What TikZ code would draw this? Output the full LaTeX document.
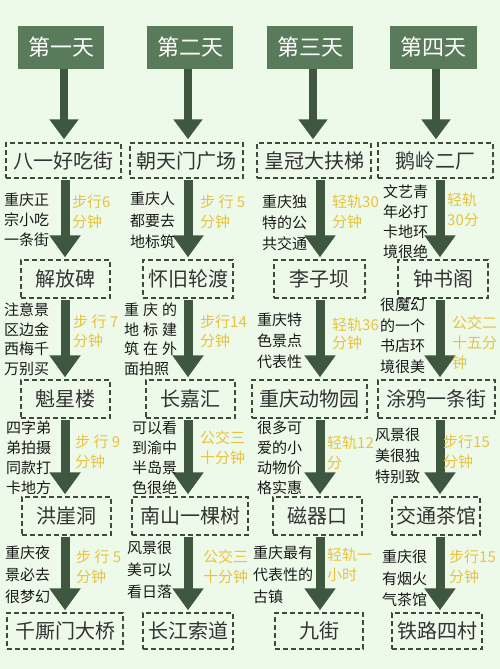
\documentclass[tikz,border=0pt]{standalone}
\usepackage{fontspec}
\setmainfont{Noto Sans CJK SC}
\usetikzlibrary{arrows.meta}
\definecolor{bgc}{HTML}{EDFAEA}
\definecolor{hdrc}{HTML}{5A7A5C}
\definecolor{arrc}{HTML}{3E573E}
\definecolor{goldc}{HTML}{E6C340}
\definecolor{dashc}{HTML}{3C4A3C}
\tikzset{
 hdr/.style={fill=hdrc, text=white, font=\fontsize{22}{24}\selectfont, inner sep=0pt},
 bx/.style={draw=dashc, line width=1.4pt, dash pattern=on 5pt off 3pt, font=\fontsize{20}{22}\selectfont, text=black!80, inner sep=0pt},
 dsc/.style={font=\fontsize{15}{17}\selectfont, text=black!90, inner sep=0pt},
 ylw/.style={font=\fontsize{15}{17}\selectfont, text=goldc, inner sep=0pt},
 hdarr/.style={draw=arrc, line width=8pt, -{Triangle[width=28pt,length=20pt]}},
 rarr/.style={draw=arrc, line width=9pt, -{Triangle[width=30pt,length=22pt]}},
}
\newcommand\txtl[6]{\foreach \t [count=\i from 0] in {#6} {\node[#2, anchor=west] (#1-\i) at (#3, {#4+\i*#5}) {\t};}}
\begin{document}
\begin{tikzpicture}[x=1pt,y=-1pt]
\fill[bgc] (0,0) rectangle (500,669);
\useasboundingbox (0,0) rectangle (500,669);
% headers
\node[hdr, minimum width=86pt, minimum height=43pt] (h1) at (61,47.5) {第一天};
\node[hdr, minimum width=86pt, minimum height=43pt] (h2) at (190,47.5) {第二天};
\node[hdr, minimum width=86pt, minimum height=43pt] (h3) at (310,47.5) {第三天};
\node[hdr, minimum width=87pt, minimum height=43pt] (h4) at (433.5,47.5) {第四天};
% row 1
\node[bx, minimum width=115pt, minimum height=35pt] (b1-1) at (63.5,160.5) {八一好吃街};
\node[bx, minimum width=113pt, minimum height=35pt] (b1-2) at (186.5,160.5) {朝天门广场};
\node[bx, minimum width=114pt, minimum height=35pt] (b1-3) at (314,160.5) {皇冠大扶梯};
\node[bx, minimum width=115pt, minimum height=35pt] (b1-4) at (435.5,160.5) {鹅岭二厂};
% row 2
\node[bx, minimum width=89pt, minimum height=38pt] (b2-1) at (65.5,279) {解放碑};
\node[bx, minimum width=90pt, minimum height=38pt] (b2-2) at (188,279) {怀旧轮渡};
\node[bx, minimum width=91pt, minimum height=38pt] (b2-3) at (319.5,279) {李子坝};
\node[bx, minimum width=90pt, minimum height=38pt] (b2-4) at (443,279) {钟书阁};
% row 3
\node[bx, minimum width=89pt, minimum height=38pt] (b3-1) at (65.5,399) {魁星楼};
\node[bx, minimum width=89pt, minimum height=38pt] (b3-2) at (190.5,399) {长嘉汇};
\node[bx, minimum width=115pt, minimum height=38pt] (b3-3) at (309.5,399) {重庆动物园};
\node[bx, minimum width=117pt, minimum height=38pt] (b3-4) at (436.5,399) {涂鸦一条街};
% row 4
\node[bx, minimum width=89pt, minimum height=38pt] (b4-1) at (66.5,516) {洪崖洞};
\node[bx, minimum width=116pt, minimum height=38pt] (b4-2) at (190,516) {南山一棵树};
\node[bx, minimum width=89pt, minimum height=38pt] (b4-3) at (317.5,516) {磁器口};
\node[bx, minimum width=88pt, minimum height=38pt] (b4-4) at (436,516) {交通茶馆};
% row 5
\node[bx, minimum width=116pt, minimum height=36pt] (b5-1) at (65,631) {千厮门大桥};
\node[bx, minimum width=90pt, minimum height=36pt] (b5-2) at (188,631) {长江索道};
\node[bx, minimum width=88pt, minimum height=36pt] (b5-3) at (319,631) {九街};
\node[bx, minimum width=90pt, minimum height=36pt] (b5-4) at (437,631) {铁路四村};
% header arrows
\foreach \c/\x in {1/64,2/188,3/313,4/436} {
  \coordinate (hx\c) at (\x,0);
  \draw[hdarr] (h\c.south -| hx\c) -- ([yshift=3pt]b1-\c.north -| hx\c);
}
% row arrows
\foreach \c/\x in {1/65,2/188,3/320,4/440} {
  \coordinate (cx\c) at (\x,0);
  \foreach \r in {1,2,3,4} {
    \pgfmathtruncatemacro\n{\r+1}
    \draw[rarr] ([yshift=-1pt]b\r-\c.south -| cx\c) -- ([yshift=2pt]b\n-\c.north -| cx\c);
  }
}
% segment 1
\txtl{d1a}{dsc}{4}{200}{20}{重庆正,宗小吃,一条街}
\txtl{d1b}{dsc}{130}{199}{21.5}{重庆人,都要去,地标筑}
\txtl{d1c}{dsc}{262}{202}{21}{重庆独,特的公,共交通}
\txtl{d1d}{dsc}{383}{192}{20}{文艺青,年必打,卡地环,境很绝}
\txtl{y1a}{ylw}{72}{202}{20}{步行6,分钟}
\txtl{y1b}{ylw}{200}{202}{20}{步 行 5,分钟}
\txtl{y1c}{ylw}{332}{202}{20}{轻轨30,分钟}
\txtl{y1d}{ylw}{447}{200}{20}{轻轨,30分}
% segment 2
\txtl{d2a}{dsc}{4}{310}{19.5}{注意景,区边金,西梅千,万别买}
\txtl{d2b}{dsc}{124}{310}{19.5}{\makebox[53pt]{重\hfill 庆\hfill 的},\makebox[53pt]{地\hfill 标\hfill 建},\makebox[53pt]{筑\hfill 在\hfill 外},面拍照}
\txtl{d2c}{dsc}{257}{320}{21}{重庆特,色景点,代表性}
\txtl{d2d}{dsc}{380}{305}{20.5}{很魔幻,的一个,书店环,境很美}
\txtl{y2a}{ylw}{73}{322}{19}{步 行 7,分钟}
\txtl{y2b}{ylw}{200}{322}{19}{步行14,分钟}
\txtl{y2c}{ylw}{332}{325}{18}{轻轨36,分钟}
\txtl{y2d}{ylw}{452}{323}{20}{公交二,十五分,钟}
% segment 3
\txtl{d3a}{dsc}{6}{428}{20}{四字弟,弟拍摄,同款打,卡地方}
\txtl{d3b}{dsc}{132}{428}{20}{可以看,到渝中,半岛景,色很绝}
\txtl{d3c}{dsc}{257}{428}{20}{很多可,爱的小,动物价,格实惠}
\txtl{d3d}{dsc}{375}{435}{21}{风景很,美很独,特别致}
\txtl{y3a}{ylw}{75}{442}{20}{步 行 9,分钟}
\txtl{y3b}{ylw}{200}{438}{20}{公交三,十分钟}
\txtl{y3c}{ylw}{327}{443}{20}{轻轨12,分}
\txtl{y3d}{ylw}{443}{442}{20}{步行15,分钟}
% segment 4
\txtl{d4a}{dsc}{5}{553}{22}{重庆夜,景必去,很梦幻}
\txtl{d4b}{dsc}{127}{548}{22}{风景很,美可以,看日落}
\txtl{d4c}{dsc}{253}{553}{22}{重庆最有,代表性的,古镇}
\txtl{d4d}{dsc}{382}{557}{21.5}{重庆很,有烟火,气茶馆}
\txtl{y4a}{ylw}{76}{557}{20}{步 行 5,分钟}
\txtl{y4b}{ylw}{203}{557}{20}{公交三,十分钟}
\txtl{y4c}{ylw}{327}{555}{20}{轻轨一,小时}
\txtl{y4d}{ylw}{449}{557}{20}{步行15,分钟}
\end{tikzpicture}
\end{document}
